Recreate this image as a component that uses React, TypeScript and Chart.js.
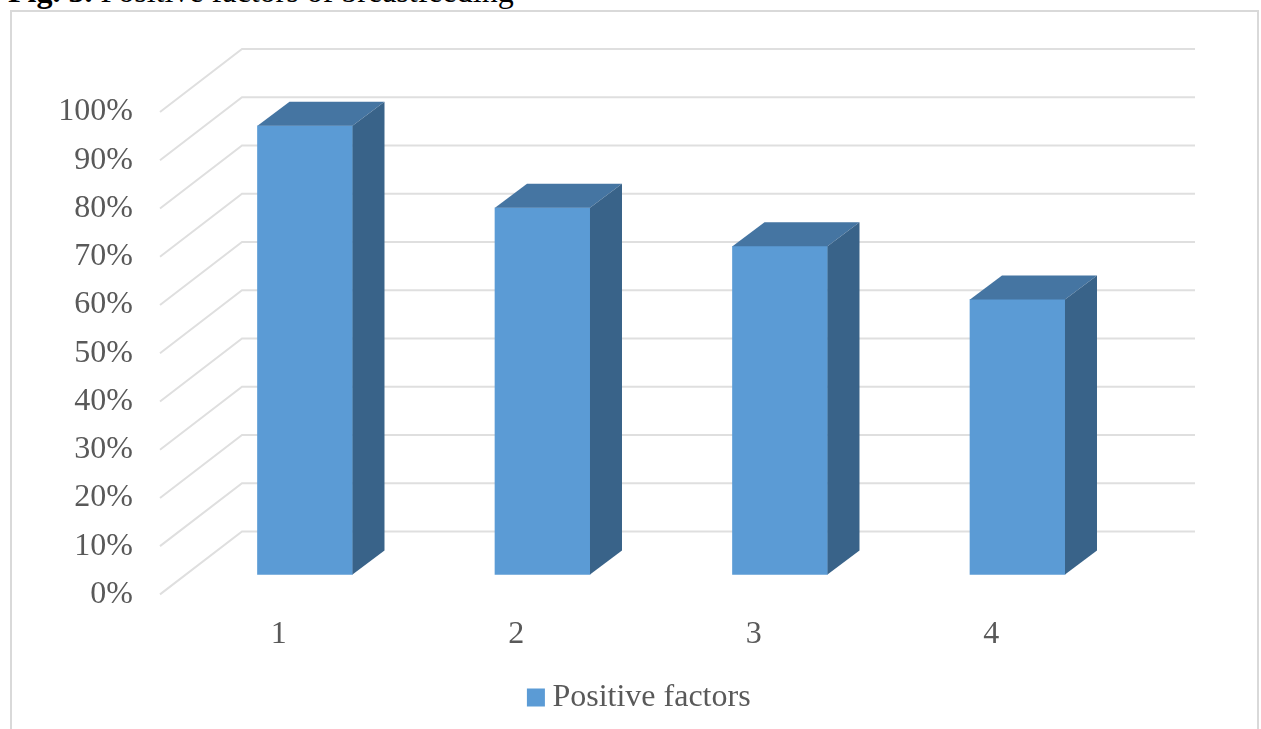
import React, { useEffect, useRef } from "react";
import { Chart, registerables } from "chart.js";

Chart.register(...registerables);

const categories = ["1", "2", "3", "4"];
const seriesName = "Positive factors";
const seriesValues = [93, 76, 68, 57];
const TEXT = "#595959";
const FONT = "'Liberation Serif', 'Times New Roman', serif";
const GRID = "#dfdfdf";
const FRONT = "#5b9bd5";
const TOP = "#4575a2";
const SIDE = "#396389";

const wallDepth = { x: 82, y: -63 };
const barDepth = { x: 32, y: -24 };

const threeD = {
  id: "threeD",
  beforeDatasetsDraw(chart: any) {
    const { ctx, chartArea, scales } = chart;
    const y = scales.y;
    ctx.save();
    ctx.strokeStyle = GRID;
    ctx.lineWidth = 2;
    for (const t of y.ticks) {
      const py = y.getPixelForValue(t.value);
      ctx.beginPath();
      ctx.moveTo(chartArea.left, py);
      ctx.lineTo(chartArea.left + wallDepth.x, py + wallDepth.y);
      ctx.lineTo(chartArea.right + wallDepth.x + 3, py + wallDepth.y);
      ctx.stroke();
    }
    ctx.restore();
  },
  afterDatasetsDraw(chart: any) {
    const { ctx } = chart;
    const meta = chart.getDatasetMeta(0);
    ctx.save();
    for (const bar of meta.data) {
      const l = bar.x - bar.width / 2;
      const r = bar.x + bar.width / 2;
      const t = bar.y;
      const b = bar.base;
      ctx.fillStyle = TOP;
      ctx.beginPath();
      ctx.moveTo(l, t);
      ctx.lineTo(l + barDepth.x, t + barDepth.y);
      ctx.lineTo(r + barDepth.x, t + barDepth.y);
      ctx.lineTo(r, t);
      ctx.closePath();
      ctx.fill();
      ctx.fillStyle = SIDE;
      ctx.beginPath();
      ctx.moveTo(r, t);
      ctx.lineTo(r + barDepth.x, t + barDepth.y);
      ctx.lineTo(r + barDepth.x, b + barDepth.y);
      ctx.lineTo(r, b);
      ctx.closePath();
      ctx.fill();
    }
    ctx.restore();
  },
};

export default function App() {
  const ref = useRef<HTMLCanvasElement>(null);
  useEffect(() => {
    const chart = new Chart(ref.current as HTMLCanvasElement, {
      type: "bar",
      data: {
        labels: categories,
        datasets: [
          {
            label: seriesName,
            data: seriesValues.map((v, i) => ({ x: i + 1, y: v })),
            backgroundColor: FRONT,
            borderWidth: 0,
            barThickness: 95,
            xAxisID: "xBar",
            yAxisID: "yBar",
          } as any,
        ],
      },
      options: {
        responsive: false,
        animation: false,
        devicePixelRatio: 1,
        layout: { padding: { top: 112, left: 25, right: 0, bottom: 5.6 } },
        plugins: {
          tooltip: { enabled: false },
          legend: {
            position: "bottom",
            labels: {
              usePointStyle: true,
              pointStyle: "rect",
              boxWidth: 1,
              boxHeight: 18,
              padding: 0,
              color: TEXT,
              font: { family: FONT, size: 32 },
            },
          },
        },
        scales: {
          x: {
            type: "category",
            position: "bottom",
            offset: true,
            grid: { display: false },
            border: { display: false },
            ticks: { color: TEXT, padding: 13, font: { family: FONT, size: 32 }, maxRotation: 0 },
            afterFit: (s: any) => { s.height = 87; },
          },
          y: {
            type: "linear",
            position: "left",
            min: 0,
            max: 100,
            grid: { display: false },
            border: { display: false },
            ticks: {
              stepSize: 10,
              autoSkip: false,
              padding: 19,
              color: TEXT,
              font: { family: FONT, size: 32 },
              callback: (v: any) => `${v}%`,
            },
            afterFit: (s: any) => { s.width = 135; },
          },
          yRight: {
            type: "linear",
            position: "right",
            grid: { display: false },
            border: { display: false },
            ticks: { display: false },
            afterFit: (s: any) => { s.width = 151; },
          },
          xBar: { type: "linear", display: false, offset: false, min: 0.3895, max: 4.3895 },
          yBar: { type: "linear", display: false, min: -4.15, max: 95.85 },
        },
      } as any,
      plugins: [threeD],
    });
    return () => chart.destroy();
  }, []);

  return (
    <div style={{ position: "fixed", left: 0, top: 0, width: 1261, height: 729, overflow: "hidden", background: "#fff", filter: "blur(0.5px)" }}>
      <div style={{ position: "absolute", left: 8, top: -27, fontFamily: FONT, fontSize: 32, lineHeight: "36px", color: "#000", whiteSpace: "pre" }}>
        <b>Fig. 3.</b> Positive factors of breastfeeding
      </div>
      <div style={{ position: "absolute", left: 10, top: 10, width: 1245, height: 800, border: "2px solid #d9d9d9", boxSizing: "content-box" }} />
      <canvas ref={ref} width={1261} height={729} style={{ position: "absolute", left: 0, top: 0, display: "block" }} />
    </div>
  );
}
